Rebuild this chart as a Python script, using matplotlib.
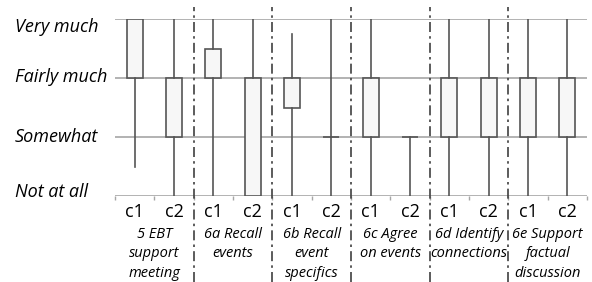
import matplotlib
matplotlib.use("Agg")
import matplotlib.pyplot as plt

# ---- Data (0 = Not at all ... 3 = Very much)
groups = ["5 EBT\nsupport\nmeeting", "6a Recall\nevents", "6b Recall\nevent\nspecifics",
          "6c Agree\non events", "6d Identify\nconnections", "6e Support\nfactual\ndiscussion"]
conds = ["c1", "c2"]
levels = ["Not at all", "Somewhat", "Fairly much", "Very much"]
level_label_y = [0.07, 1.0, 2.02, 2.87]  # label positions as drawn in the source

# one value per box: c1, c2 for each group in order
lows  = [0.5, 0, 0,   0, 0,    0, 0, 0, 0, 0, 0, 0]
q1s   = [2,   1, 2,   0, 1.5,  1, 1, 1, 1, 1, 1, 1]
q3s   = [3,   2, 2.5, 2, 2,    1, 2, 1, 2, 2, 2, 2]
highs = [3,   3, 3,   3, 2.75, 3, 3, 1, 3, 3, 3, 3]

# ---- Figure
fig = plt.figure(figsize=(5.92, 2.82), dpi=100)
ax = fig.add_axes([115 / 592, 1 - 196 / 282, 472 / 592, 177 / 282])

stats = []
for lo, a, b, hi in zip(lows, q1s, q3s, highs):
    stats.append({"whislo": lo, "q1": a, "med": a, "q3": b, "whishi": hi, "fliers": []})

pos = list(range(1, len(stats) + 1))
edge = "#555555"
ax.bxp(stats, positions=pos, widths=0.41, showcaps=False, showfliers=False,
       patch_artist=True,
       boxprops=dict(facecolor="#f7f7f7", edgecolor=edge, linewidth=1.2),
       whiskerprops=dict(color=edge, linewidth=1.2),
       medianprops=dict(linewidth=0))

# gridlines at each level
for y in range(4):
    ax.axhline(y, color="#a6a6a6", linewidth=1.2, zorder=0)

ax.set_xlim(0.5, 12.5)
ax.set_ylim(0, 3)
for s in ax.spines.values():
    s.set_visible(False)
ax.set_yticks([])
ax.set_xticks([p + 0.5 for p in range(0, 13)])
ax.set_xticklabels([])
ax.tick_params(axis="x", length=3, color="#a6a6a6", width=1)

# y level labels
for lab, y in zip(levels, level_label_y):
    ax.text(-2.04, y, lab, ha="left", va="center", fontsize=13,
            style="italic", family="Open Sans", clip_on=False)

# condition labels and group labels
for g, name in enumerate(groups):
    for k, c in enumerate(conds):
        ax.text(2 * g + 1 + k, -0.27, c, ha="center", va="center", fontsize=13,
                family="Open Sans", clip_on=False)
    ax.text(2 * g + 1.5, -0.53, name, ha="center", va="top", fontsize=10.5,
            style="italic", family="Open Sans", linespacing=1.38, clip_on=False)

# dash-dot separators between groups
for g in range(1, len(groups)):
    ax.plot([2 * g + 0.5] * 2, [-1.45, 3.2], color="#404040", linewidth=1.2,
            linestyle=(0, (6, 2.5, 1.5, 2.5)), clip_on=False)

fig.savefig("out.png", dpi=100)
